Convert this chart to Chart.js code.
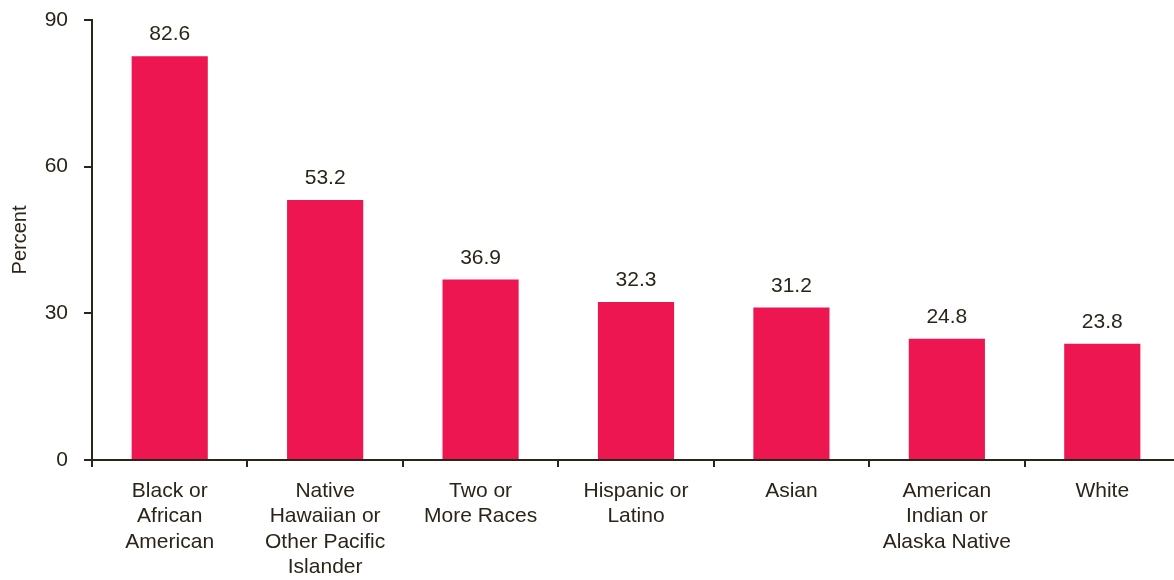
<!DOCTYPE html>
<html>
<head>
<meta charset="utf-8">
<script src="https://cdn.jsdelivr.net/npm/chart.js@4/dist/chart.umd.min.js"></script>
<style>
  html, body { margin: 0; padding: 0; background: #fff; overflow: hidden; }
</style>
</head>
<body>
<canvas id="grafico" width="1180" height="580"></canvas>
<script>
// categorias y valores (porcentaje)
let categorias = [
  ["Black or", "African", "American"],
  ["Native", "Hawaiian or", "Other Pacific", "Islander"],
  ["Two or", "More Races"],
  ["Hispanic or", "Latino"],
  ["Asian"],
  ["American", "Indian or", "Alaska Native"],
  ["White"],
];
let valores = [82.6, 53.2, 36.9, 32.3, 31.2, 24.8, 23.8];
let ticksY = [0, 30, 60, 90];

let colorTexto = "#2b2519";
let colorBarra = "#ed1651";
let fuente = "'Liberation Sans', Arial, sans-serif";

//Plugin para las etiquetas encima de cada barra
let etiquetasValor = {
  id: "etiquetasValor",
  afterDatasetsDraw: (chart) => {
    let ctx = chart.ctx;
    let meta = chart.getDatasetMeta(0);
    ctx.save();
    ctx.fillStyle = colorTexto;
    ctx.font = "21px " + fuente;
    ctx.textAlign = "center";
    ctx.textBaseline = "bottom";
    meta.data.forEach((bar, i) => {
      ctx.fillText(valores[i].toFixed(1), bar.x, bar.y - 11);
    });
    ctx.restore();
  },
};

let config = {
  type: "bar",
  data: {
    labels: categorias,
    datasets: [
      {
        data: valores,
        backgroundColor: colorBarra,
        barPercentage: 0.49,
        categoryPercentage: 1,
      },
    ],
  },
  options: {
    responsive: false,
    animation: false,
    layout: { padding: { top: 20, right: 0, left: 0, bottom: 0 } },
    plugins: {
      legend: { display: false },
      tooltip: { enabled: false },
    },
    scales: {
      x: {
        grid: {
          offset: true,
          drawOnChartArea: false,
          tickLength: 7,
          color: colorTexto,
          lineWidth: 2,
        },
        border: { color: colorTexto, width: 2 },
        ticks: {
          color: colorTexto,
          padding: 11,
          maxRotation: 0,
          autoSkip: false,
          font: { family: fuente, size: 21, lineHeight: 1.22 },
        },
        afterFit: (scale) => {
          scale.height = 120;
          scale.paddingLeft = 0;
          scale.paddingRight = 0;
        },
      },
      y: {
        min: 0,
        max: 90,
        afterBuildTicks: (scale) => {
          scale.ticks = ticksY.map((v) => ({ value: v }));
        },
        grid: {
          drawOnChartArea: false,
          tickLength: 8,
          color: colorTexto,
          lineWidth: 2,
        },
        border: { color: colorTexto, width: 2 },
        ticks: {
          color: colorTexto,
          padding: 16,
          font: { family: fuente, size: 21 },
        },
        title: {
          display: true,
          text: "Percent",
          color: colorTexto,
          padding: { top: 8, bottom: 0 },
          font: { family: fuente, size: 20 },
        },
        afterFit: (scale) => {
          scale.width = 92;
          scale.paddingTop = 0;
          scale.paddingBottom = 0;
        },
      },
    },
  },
  plugins: [etiquetasValor],
};

let chart1 = new Chart(document.getElementById("grafico"), config);
</script>
</body>
</html>
